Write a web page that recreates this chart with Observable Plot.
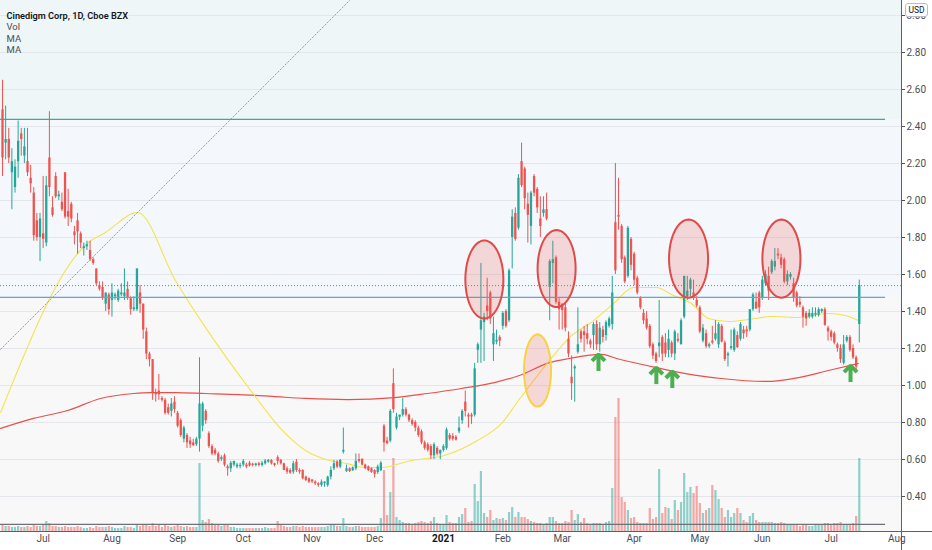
<!DOCTYPE html>
<html><head><meta charset="utf-8">
<script src="https://cdn.jsdelivr.net/npm/d3@7"></script>
<script src="https://cdn.jsdelivr.net/npm/@observablehq/plot@0.6"></script>
<style>
html,body{margin:0;padding:0;background:#fff;}
#wrap{position:relative;width:932px;height:550px;overflow:hidden;font-family:Roboto,"DejaVu Sans",sans-serif;}
#usd{position:absolute;left:905px;top:3px;width:21px;height:12px;border:1px solid #b8bcc4;border-radius:3px;background:#fff;font-size:8.5px;line-height:12px;text-align:center;color:#131722;}
</style></head><body>
<div id="wrap"><div id="chart"></div><div id="usd">USD</div></div>
<script>
// ---- Daily candles (index 0 = 2020-06-12 ... 274 = 2021-07-15) ----
const open = [
2.49,2.31,2.33,2.15,2.07,2.21,2.36,2.24,2.21,2.12,
2.04,1.89,1.80,1.82,1.77,2.23,1.96,2.13,2.02,1.99,
2.15,1.94,1.98,1.83,1.89,1.82,1.74,1.75,1.73,1.68,
1.63,1.54,1.53,1.44,1.49,1.46,1.48,1.46,1.49,1.48,
1.52,1.47,1.41,1.41,1.50,1.44,1.29,1.17,1.14,0.96,
0.97,0.93,0.92,0.88,0.86,0.91,0.85,0.81,0.71,0.73,
0.70,0.69,0.68,0.71,0.78,0.86,0.74,0.67,0.65,0.63,
0.60,0.62,0.56,0.55,0.57,0.56,0.562,0.57,0.57,0.58,
0.575,0.568,0.577,0.568,0.577,0.586,0.595,0.577,0.61,0.595,
0.577,0.55,0.541,0.532,0.586,0.541,0.541,0.505,0.496,0.49,
0.478,0.469,0.460,0.469,0.460,0.505,0.55,0.586,0.559,0.64,
0.535,0.55,0.54,0.55,0.60,0.60,0.57,0.56,0.55,0.54,
0.53,0.54,0.78,0.70,0.70,1.01,0.77,0.828,0.84,0.87,
0.84,0.81,0.80,0.77,0.75,0.69,0.68,0.67,0.62,0.66,
0.63,0.65,0.66,0.73,0.725,0.72,0.75,0.81,0.91,0.84,
0.84,0.84,1.19,1.30,1.34,1.43,1.50,1.22,1.235,1.26,
1.32,1.40,1.35,1.80,1.93,1.85,2.21,2.17,1.98,1.86,
2.13,2.06,1.90,1.93,1.95,1.53,1.66,1.69,1.45,1.44,
1.42,1.25,1.045,1.09,1.18,1.29,1.29,1.28,1.24,1.27,
1.33,1.22,1.30,1.27,1.32,1.33,1.88,1.92,1.86,1.69,
1.59,1.79,1.71,1.58,1.47,1.39,1.36,1.32,1.22,1.17,
1.21,1.26,1.23,1.19,1.23,1.17,1.25,1.22,1.37,1.48,
1.52,1.50,1.46,1.42,1.24,1.28,1.21,1.24,1.25,1.22,
1.32,1.23,1.16,1.20,1.19,1.27,1.25,1.30,1.30,1.30,
1.41,1.45,1.50,1.47,1.55,1.59,1.61,1.64,1.71,1.69,
1.68,1.56,1.585,1.55,1.50,1.45,1.42,1.39,1.37,1.37,
1.38,1.38,1.40,1.41,1.31,1.29,1.28,1.22,1.20,1.12,
1.24,1.26,1.20,1.15,1.33];
const high = [
2.65,2.51,2.39,2.28,2.22,2.43,2.39,2.39,2.39,2.19,
2.07,1.93,1.93,2.13,2.13,2.48,2.02,2.15,2.05,2.04,
2.15,2.06,1.99,1.86,1.93,1.83,1.77,1.78,1.78,1.69,
1.63,1.56,1.56,1.50,1.50,1.55,1.50,1.52,1.55,1.63,
1.56,1.48,1.48,1.63,1.54,1.44,1.31,1.18,1.14,0.98,
1.06,0.94,0.93,0.90,0.93,0.94,0.86,0.82,0.78,0.74,
0.72,0.71,0.72,1.15,0.91,0.87,0.75,0.68,0.66,0.64,
0.62,0.63,0.57,0.59,0.59,0.58,0.58,0.60,0.58,0.59,
0.58,0.58,0.585,0.59,0.60,0.60,0.60,0.58,0.62,0.60,
0.58,0.56,0.55,0.59,0.60,0.55,0.545,0.51,0.50,0.49,
0.485,0.475,0.49,0.48,0.51,0.56,0.595,0.595,0.60,0.77,
0.57,0.555,0.56,0.63,0.63,0.605,0.575,0.565,0.555,0.545,
0.57,0.59,0.79,0.72,0.87,1.09,0.85,0.84,0.93,0.88,
0.845,0.82,0.81,0.78,0.76,0.70,0.69,0.68,0.69,0.67,
0.65,0.68,0.77,0.74,0.74,0.73,0.83,0.87,0.97,0.85,
0.85,1.12,1.23,1.66,1.39,1.58,1.51,1.37,1.30,1.27,
1.40,1.41,1.63,1.95,1.96,2.14,2.31,2.18,2.04,2.05,
2.14,2.07,2.02,2.02,2.04,1.68,1.78,1.70,1.47,1.44,
1.44,1.29,1.16,1.11,1.42,1.30,1.32,1.33,1.25,1.34,
1.35,1.34,1.32,1.35,1.37,1.59,2.20,2.12,1.87,1.70,
1.86,1.80,1.72,1.59,1.48,1.41,1.40,1.33,1.23,1.18,
1.46,1.27,1.28,1.30,1.24,1.30,1.28,1.36,1.59,1.59,
1.58,1.57,1.48,1.43,1.33,1.30,1.23,1.32,1.35,1.34,
1.33,1.24,1.18,1.30,1.31,1.29,1.34,1.32,1.32,1.41,
1.50,1.50,1.51,1.59,1.62,1.64,1.68,1.74,1.74,1.71,
1.69,1.62,1.61,1.58,1.51,1.48,1.43,1.40,1.41,1.42,
1.42,1.42,1.415,1.42,1.32,1.30,1.29,1.23,1.22,1.27,
1.27,1.27,1.22,1.16,1.57];
const low = [
2.13,2.22,2.20,1.95,2.04,2.12,2.24,2.20,2.13,2.04,
1.78,1.78,1.67,1.74,1.75,2.02,1.91,2.01,2.00,1.94,
1.90,1.86,1.88,1.76,1.71,1.74,1.70,1.73,1.67,1.65,
1.54,1.51,1.46,1.40,1.38,1.37,1.46,1.45,1.48,1.46,
1.46,1.38,1.40,1.40,1.39,1.25,1.14,1.10,0.92,0.91,
0.92,0.91,0.84,0.84,0.83,0.85,0.77,0.72,0.69,0.66,
0.66,0.67,0.67,0.64,0.75,0.79,0.66,0.62,0.62,0.58,
0.59,0.56,0.51,0.53,0.56,0.55,0.55,0.56,0.55,0.56,
0.56,0.56,0.56,0.56,0.57,0.58,0.57,0.56,0.57,0.57,
0.54,0.52,0.52,0.52,0.53,0.52,0.49,0.48,0.47,0.47,
0.46,0.45,0.45,0.45,0.45,0.49,0.54,0.55,0.55,0.63,
0.53,0.53,0.535,0.54,0.58,0.565,0.545,0.535,0.525,0.50,
0.52,0.535,0.64,0.68,0.69,0.85,0.76,0.81,0.83,0.83,
0.80,0.78,0.75,0.72,0.68,0.65,0.64,0.60,0.60,0.62,
0.60,0.64,0.65,0.70,0.70,0.70,0.74,0.79,0.83,0.77,
0.79,0.83,1.12,1.12,1.13,1.35,1.33,1.13,1.22,1.21,
1.30,1.31,1.34,1.63,1.78,1.84,2.07,1.95,1.77,1.76,
2.02,1.93,1.80,1.91,1.89,1.35,1.55,1.44,1.30,1.30,
1.29,1.15,0.92,0.91,1.17,1.23,1.18,1.22,1.20,1.19,
1.19,1.18,1.23,1.24,1.31,1.30,1.60,1.84,1.66,1.55,
1.58,1.62,1.54,1.49,1.41,1.33,1.30,1.20,1.14,1.12,
1.15,1.13,1.15,1.15,1.15,1.135,1.23,1.22,1.36,1.46,
1.48,1.46,1.42,1.28,1.23,1.20,1.20,1.22,1.24,1.20,
1.23,1.13,1.10,1.19,1.18,1.20,1.24,1.25,1.26,1.29,
1.40,1.41,1.39,1.46,1.54,1.46,1.60,1.62,1.68,1.63,
1.55,1.54,1.57,1.45,1.42,1.42,1.31,1.32,1.36,1.36,
1.37,1.37,1.39,1.32,1.24,1.24,1.22,1.18,1.12,1.11,
1.23,1.18,1.14,1.07,1.23];
const close = [
2.23,2.33,2.23,2.21,2.18,2.32,2.33,2.29,2.15,2.09,
1.81,1.80,1.90,1.79,2.08,2.07,1.92,2.02,2.03,1.95,
1.91,1.91,1.90,1.81,1.83,1.77,1.75,1.76,1.68,1.66,
1.55,1.52,1.47,1.50,1.41,1.50,1.49,1.51,1.50,1.50,
1.47,1.41,1.42,1.63,1.44,1.30,1.17,1.14,0.96,0.95,
0.95,0.92,0.85,0.85,0.90,0.87,0.78,0.73,0.77,0.69,
0.68,0.675,0.71,0.90,0.90,0.81,0.67,0.63,0.63,0.59,
0.61,0.57,0.55,0.58,0.59,0.57,0.568,0.59,0.56,0.565,
0.568,0.576,0.568,0.58,0.592,0.595,0.577,0.568,0.59,0.577,
0.541,0.532,0.527,0.577,0.541,0.532,0.496,0.487,0.478,0.479,
0.469,0.460,0.478,0.478,0.505,0.541,0.577,0.559,0.595,0.65,
0.55,0.535,0.555,0.59,0.59,0.57,0.55,0.54,0.53,0.52,
0.56,0.58,0.69,0.685,0.86,0.87,0.83,0.84,0.87,0.84,
0.81,0.79,0.77,0.73,0.69,0.66,0.65,0.62,0.68,0.63,
0.65,0.67,0.76,0.71,0.71,0.705,0.77,0.86,0.86,0.83,
0.83,1.09,1.22,1.35,1.37,1.40,1.36,1.28,1.245,1.24,
1.39,1.32,1.62,1.91,1.79,2.12,2.08,2.01,1.92,2.04,
2.04,1.96,1.86,1.95,1.90,1.67,1.68,1.45,1.41,1.405,
1.31,1.17,1.01,1.10,1.22,1.25,1.27,1.25,1.22,1.33,
1.22,1.31,1.26,1.34,1.36,1.50,1.62,1.91,1.68,1.56,
1.85,1.65,1.57,1.50,1.42,1.35,1.31,1.21,1.16,1.13,
1.23,1.17,1.17,1.25,1.17,1.29,1.24,1.35,1.59,1.51,
1.57,1.47,1.43,1.29,1.31,1.21,1.22,1.23,1.28,1.33,
1.235,1.14,1.17,1.21,1.30,1.205,1.33,1.28,1.29,1.41,
1.49,1.415,1.42,1.57,1.60,1.51,1.67,1.67,1.70,1.65,
1.56,1.60,1.60,1.47,1.43,1.435,1.37,1.36,1.39,1.39,
1.39,1.41,1.41,1.325,1.29,1.26,1.23,1.20,1.14,1.22,
1.26,1.19,1.15,1.10,1.54];
// volume, millions of shares
const volume = [
1.8,1.5,1.5,1.2,1.2,1.5,1.2,1.2,1.5,1.2,
1.8,1.5,1.5,1.8,3.0,2.4,1.5,1.5,1.2,1.2,
1.5,1.2,1.2,1.2,1.5,1.2,0.9,0.9,1.2,0.9,
1.5,1.2,1.2,1.2,1.5,1.2,0.9,0.9,0.9,1.5,
1.2,1.2,0.9,2.1,1.5,1.8,1.8,1.5,2.4,1.5,
1.8,1.2,1.8,1.5,1.2,1.5,1.8,1.5,1.2,1.5,
1.2,1.2,1.2,20.4,3.3,2.7,3.6,2.4,2.1,2.1,
1.5,1.8,1.8,1.2,1.2,0.9,0.9,0.9,0.9,0.9,
0.9,0.9,0.9,0.9,1.2,0.9,0.9,0.9,3.0,1.8,
1.5,1.2,1.2,1.5,1.5,1.2,1.5,1.2,1.2,1.2,
1.2,1.2,1.2,1.2,1.5,1.8,1.8,1.5,1.5,3.9,
1.5,1.2,1.2,1.5,1.5,1.2,1.2,1.2,1.2,1.2,
1.5,3.9,18.3,4.8,11.7,21.9,4.2,3.3,2.7,2.4,
2.4,2.1,2.4,2.7,3.0,2.7,2.4,3.0,4.2,2.4,
1.8,2.1,4.8,2.7,2.4,2.4,4.2,5.1,6.9,2.7,
3.0,14.1,9.0,18.0,5.4,4.2,6.3,3.3,3.9,3.6,
3.9,3.3,5.7,7.2,4.2,5.7,4.2,4.2,3.6,3.0,
2.7,2.4,2.4,2.1,2.4,4.2,4.2,3.0,2.4,2.4,
3.0,2.7,6.3,3.3,5.1,2.7,3.9,2.4,2.1,2.4,
2.4,2.4,2.1,2.7,3.0,12.9,34.2,39.9,10.2,8.7,
6.3,3.9,4.2,2.7,2.4,2.4,2.4,6.9,3.6,4.2,
18.6,5.4,7.2,6.9,3.6,9.3,6.3,8.7,17.4,11.7,
13.2,11.4,13.5,8.4,5.4,6.3,6.9,13.8,12.3,9.6,
6.9,4.2,6.3,4.2,5.4,6.9,5.4,3.3,2.7,4.5,
5.4,3.3,2.7,2.7,2.7,2.7,2.7,2.4,2.4,2.7,
2.4,1.8,1.8,1.8,1.8,1.5,1.8,1.8,1.5,1.5,
1.8,1.8,1.8,2.4,2.4,2.1,2.4,2.4,2.7,2.1,
2.1,1.8,2.4,4.5,21.9];

// moving averages (bar index, price)
const maFastIdx = [-0.6,27.5,32.9,43.2,55.3,64.9,80.6,89.5,96.9,104.6,110.3,115.8,121.2,130.8,141.3,151.9,159.6,165.0,174.9,181.3,189.0,195.4,201.8,209.1,214.6,220.3,225.8,232.2,238.6,245.9,254.6,264.1,269.6,273.7];
const maFastVal = [0.854,1.773,1.827,1.935,1.568,1.314,0.946,0.757,0.649,0.595,0.578,0.557,0.557,0.595,0.622,0.703,0.795,0.919,1.135,1.259,1.351,1.443,1.530,1.530,1.486,1.443,1.362,1.346,1.357,1.373,1.368,1.389,1.378,1.351];
const maSlowIdx = [-0.6,9.9,20.8,31.3,41.9,47.3,55.3,64.9,75.8,86.3,96.9,110.3,125.4,135.9,146.8,157.3,165.3,174.9,181.3,191.5,196.4,209.1,220.3,229.9,244.0,254.6,264.1,273.7];
const maSlowVal = [0.768,0.822,0.865,0.930,0.957,0.962,0.962,0.957,0.951,0.941,0.930,0.924,0.935,0.957,0.984,1.016,1.054,1.124,1.146,1.168,1.146,1.097,1.059,1.038,1.022,1.043,1.081,1.119];

// time axis
const monthIdx = [13,35,56,77,99,119,141,160,179,202,223,243,265,286];
const monthLabels = ["Jul","Aug","Sep","Oct","Nov","Dec","2021","Feb","Mar","Apr","May","Jun","Jul","Aug"];
const priceTicks = [0.4,0.6,0.8,1.0,1.2,1.4,1.6,1.8,2.0,2.2,2.4,2.6,2.8,3.0];

// drawings
const resistance = 2.438, support = 1.476, volLine = 0.249;
const trendIdx = [-0.64, 111.0], trendVal = [1.195, 3.081];
const redEllipses = [
  {cx:154.1, cy:1.573, rx:6.08, ry:0.211},
  {cx:177.2, cy:1.632, rx:6.08, ry:0.208},
  {cx:219.4, cy:1.686, rx:6.24, ry:0.211},
  {cx:249.1, cy:1.686, rx:6.08, ry:0.211}];
const yellowEllipses = [{cx:171.1, cy:1.081, rx:4.32, ry:0.195}];
const arrowIdx = [190.6, 209.1, 214.2, 271.2];
const arrowBase = [1.076, 1.005, 0.984, 1.016];
const legendLabels = ["Vol","MA","MA"];
const title = "Cinedigm Corp, 1D, Cboe BZX";

// ---- build ----
const X0 = -0.64, X1 = 287.5, Y0 = 0.211, Y1 = 3.081, XEND = 282.4;
const PXX = (X1-X0)/901, PXY = (Y1-Y0)/531; // data units per pixel
const UP = "#26a69a", DOWN = "#ef5350";
const candles = open.map((o,i)=>({i, o, h:high[i], l:low[i], c:close[i], v:volume[i], col: close[i]>=o?UP:DOWN}));
const volK = (1/0.3)*PXY; // overlay pane: 1M shares ≈ 3.3px
const maFast = maFastIdx.map((x,k)=>({x, y:maFastVal[k]}));
const maSlow = maSlowIdx.map((x,k)=>({x, y:maSlowVal[k]}));
const trend = trendIdx.map((x,k)=>({x, y:trendVal[k]}));
const months = monthIdx.map((x,k)=>({x, label:monthLabels[k]}));
// arrow glyphs: 17px shaft with a chevron head
const arrows = arrowIdx.map((x,k)=>({x, y1:arrowBase[k], y2:arrowBase[k]+15*PXY}));
const arrowHeads = [];
arrows.forEach((a,id)=>{
  const tip = arrowBase[id]+17*PXY;
  arrowHeads.push({id,x:a.x-6.5*PXX,y:tip-6.5*PXY},{id,x:a.x,y:tip},{id,x:a.x+6.5*PXX,y:tip-6.5*PXY});
});
function ellipsePts(list){
  const pts=[];
  list.forEach((e,id)=>{for(let k=0;k<72;k++){const t=k/72*2*Math.PI;pts.push({id,x:e.cx+e.rx*Math.cos(t),y:e.cy+e.ry*Math.sin(t)});}});
  return pts;
}
const bands = [
  {lo:resistance, hi:Y1, fill:"#eef6f7"},
  {lo:support, hi:resistance, fill:"#f4f7fb"},
  {lo:Y0, hi:support, fill:"#f8f8f9"}];
const lastClose = close[close.length-1];
const legendRows = legendLabels.map((t,k)=>({t, k}));

const chart = Plot.plot({
  width:932, height:550,
  marginTop:0, marginLeft:0, marginRight:31, marginBottom:19,
  x:{domain:[X0,X1], axis:null},
  y:{domain:[Y0,Y1], axis:null},
  color:{type:"identity"},
  style:{background:"#ffffff", fontFamily:"Roboto, 'DejaVu Sans', sans-serif", fontSize:"10px", overflow:"visible"},
  marks:[
    Plot.rect(bands,{x1:X0, x2:X1, y1:"lo", y2:"hi", fill:"fill"}),
    Plot.ruleY(priceTicks,{stroke:"#e3e7ec", strokeWidth:1}),
    // volume overlay
    Plot.ruleX(candles,{x:"i", y1:Y0, y2:d=>Y0+d.v*volK, stroke:"col", strokeWidth:2.2, strokeOpacity:0.5}),
    Plot.ruleY([volLine],{x1:X0, x2:XEND, stroke:"#6e7177", strokeWidth:1.2}),
    // moving averages
    Plot.line(maSlow,{x:"x", y:"y", stroke:"#e8504c", strokeWidth:1.2, curve:"monotone-x"}),
    Plot.line(maFast,{x:"x", y:"y", stroke:"#f3e34f", strokeWidth:1.1, curve:"monotone-x"}),
    // candles
    Plot.ruleX(candles,{x:"i", y1:"l", y2:"h", stroke:"col", strokeWidth:1}),
    Plot.ruleX(candles,{x:"i", y1:"o", y2:"c", stroke:"col", strokeWidth:2.3}),
    // drawings
    Plot.line(trend,{x:"x", y:"y", stroke:"#9aa0a6", strokeWidth:1, strokeDasharray:"1.5,2"}),
    Plot.ruleY([resistance],{x1:X0, x2:XEND, stroke:"#3fa89b", strokeWidth:1.2}),
    Plot.ruleY([support],{x1:X0, x2:XEND, stroke:"#5aa9dc", strokeWidth:1.2}),
    Plot.ruleY([lastClose],{stroke:"#26a69a", strokeWidth:1, strokeDasharray:"1,2"}),
    Plot.line(ellipsePts(redEllipses),{x:"x", y:"y", z:"id", curve:"linear-closed", fill:"#ef5350", fillOpacity:0.2, stroke:"#e04a47", strokeWidth:2}),
    Plot.line(ellipsePts(yellowEllipses),{x:"x", y:"y", z:"id", curve:"linear-closed", fill:"#ef5350", fillOpacity:0.2, stroke:"#f6d343", strokeWidth:2}),
    Plot.ruleX(arrows,{x:"x", y1:"y1", y2:"y2", stroke:"#4caf50", strokeWidth:4}),
    Plot.line(arrowHeads,{x:"x", y:"y", z:"id", stroke:"#4caf50", strokeWidth:4, strokeLinejoin:"miter", strokeLinecap:"butt"}),
    // frame
    Plot.ruleX([X1],{stroke:"#5d6066", insetBottom:-19}),
    Plot.ruleY([Y0],{stroke:"#5d6066", insetRight:-31}),
    // time axis labels
    Plot.text(months.filter(d=>d.label!=="2021"),{x:"x", text:"label", frameAnchor:"bottom", dy:10, fill:"#4a4d55", fontSize:10}),
    Plot.text(months.filter(d=>d.label==="2021"),{x:"x", text:"label", frameAnchor:"bottom", dy:10, fill:"#131722", fontSize:10, fontWeight:"bold"}),
    // price axis
    Plot.axisY(priceTicks,{anchor:"right", tickSize:3, tickPadding:2, tickFormat:d=>d.toFixed(2), color:"#4a4d55", fontSize:10}),
    // legend
    Plot.text([title],{frameAnchor:"top-left", dx:6, dy:12, text:d=>d, textAnchor:"start", fill:"#131722", fontSize:9.2, fontWeight:"600"}),
    Plot.text(legendRows.filter(d=>d.k===0),{frameAnchor:"top-left", dx:6, dy:23, text:"t", textAnchor:"start", fill:"#4a4d55", fontSize:9.5}),
    Plot.text(legendRows.filter(d=>d.k===1),{frameAnchor:"top-left", dx:6, dy:35, text:"t", textAnchor:"start", fill:"#4a4d55", fontSize:9.5}),
    Plot.text(legendRows.filter(d=>d.k===2),{frameAnchor:"top-left", dx:6, dy:46, text:"t", textAnchor:"start", fill:"#4a4d55", fontSize:9.5})
  ]
});
document.getElementById("chart").append(chart);
</script></body></html>
